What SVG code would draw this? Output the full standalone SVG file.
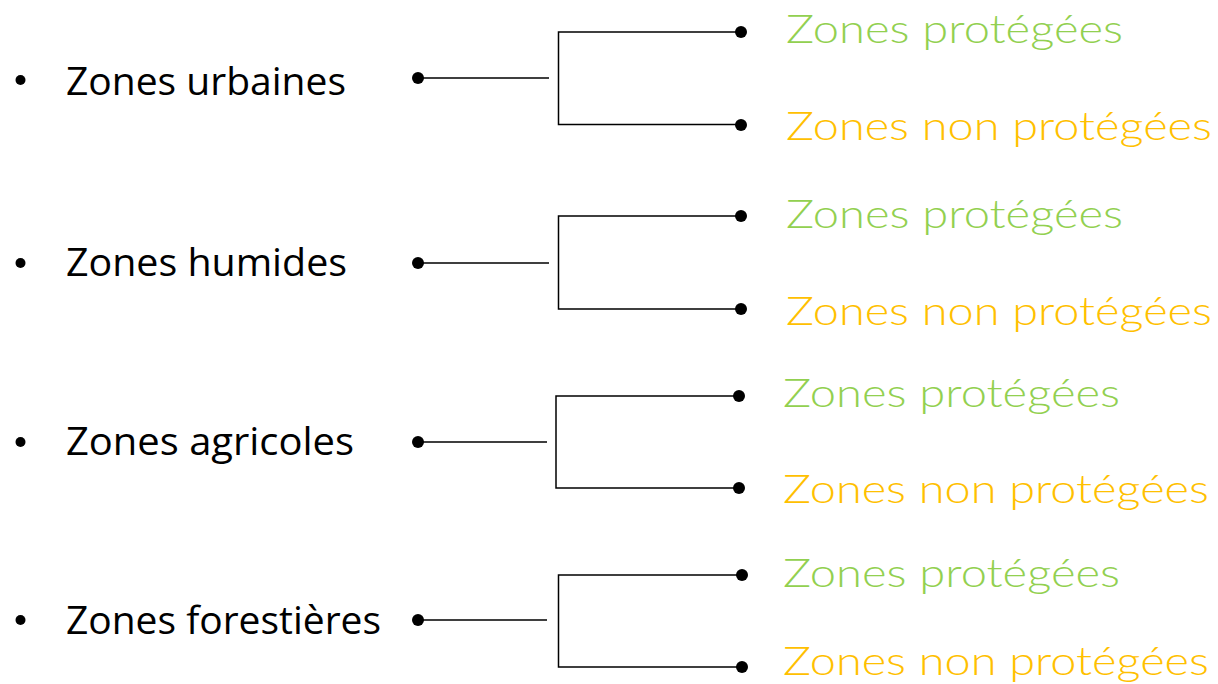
<svg xmlns="http://www.w3.org/2000/svg" width="1218" height="684" viewBox="0 0 1218 684">
<style>
.lbl{font-family:"Open Sans","Noto Sans","Liberation Sans",sans-serif;font-size:38px;fill:#000}
.g{font-family:"Lato","Noto Sans","Liberation Sans",sans-serif;font-size:40px;font-weight:300;fill:#92D050}
.o{font-family:"Lato","Noto Sans","Liberation Sans",sans-serif;font-size:40px;font-weight:300;fill:#FFC000}
.ln{stroke:#000;stroke-width:1.5;fill:none}
.dot{fill:#000}
</style>
<rect width="1218" height="684" fill="#fff"/>
<g id="n-urbaines">
<circle class="dot" cx="20.5" cy="80" r="5"/>
<text class="lbl" x="66" y="95" textLength="280" lengthAdjust="spacingAndGlyphs">Zones urbaines</text>
</g>
<g id="n-humides">
<circle class="dot" cx="20.5" cy="263" r="5"/>
<text class="lbl" x="66" y="276" textLength="281" lengthAdjust="spacingAndGlyphs">Zones humides</text>
</g>
<g id="n-agricoles">
<circle class="dot" cx="20.5" cy="442" r="5"/>
<text class="lbl" x="66" y="455" textLength="288" lengthAdjust="spacingAndGlyphs">Zones agricoles</text>
</g>
<g id="n-forestieres">
<circle class="dot" cx="20.5" cy="620" r="5"/>
<text class="lbl" x="66" y="634" textLength="315" lengthAdjust="spacingAndGlyphs">Zones forestières</text>
</g>
<g id="n-u-p"><text class="g" x="786" y="43" textLength="337" lengthAdjust="spacingAndGlyphs">Zones protégées</text></g>
<g id="n-u-np"><text class="o" x="786" y="140" textLength="426" lengthAdjust="spacingAndGlyphs">Zones non protégées</text></g>
<g id="n-h-p"><text class="g" x="786" y="228" textLength="337" lengthAdjust="spacingAndGlyphs">Zones protégées</text></g>
<g id="n-h-np"><text class="o" x="786" y="325" textLength="426" lengthAdjust="spacingAndGlyphs">Zones non protégées</text></g>
<g id="n-a-p"><text class="g" x="783" y="407" textLength="337" lengthAdjust="spacingAndGlyphs">Zones protégées</text></g>
<g id="n-a-np"><text class="o" x="783" y="503" textLength="426" lengthAdjust="spacingAndGlyphs">Zones non protégées</text></g>
<g id="n-f-p"><text class="g" x="783" y="587" textLength="337" lengthAdjust="spacingAndGlyphs">Zones protégées</text></g>
<g id="n-f-np"><text class="o" x="783" y="675" textLength="426" lengthAdjust="spacingAndGlyphs">Zones non protégées</text></g>
<g id="connectors">
<circle class="dot" cx="418" cy="78" r="6"/>
<path class="ln" d="M418 78H549M741 32H558.5V124.5H741"/>
<circle class="dot" cx="741" cy="32" r="6"/>
<circle class="dot" cx="741" cy="125" r="6"/>
<circle class="dot" cx="418" cy="263" r="6"/>
<path class="ln" d="M418 263H549M741 216H558.5V309H741"/>
<circle class="dot" cx="741" cy="216" r="6"/>
<circle class="dot" cx="741" cy="309" r="6"/>
<circle class="dot" cx="418" cy="442" r="6"/>
<path class="ln" d="M418 442H547M739 396H556V488H739"/>
<circle class="dot" cx="739" cy="396" r="6"/>
<circle class="dot" cx="739" cy="488" r="6"/>
<circle class="dot" cx="418" cy="620" r="6"/>
<path class="ln" d="M418 620H547M742 575H558.5V667H742"/>
<circle class="dot" cx="742" cy="575" r="6"/>
<circle class="dot" cx="742" cy="667" r="6"/>
</g>
</svg>
